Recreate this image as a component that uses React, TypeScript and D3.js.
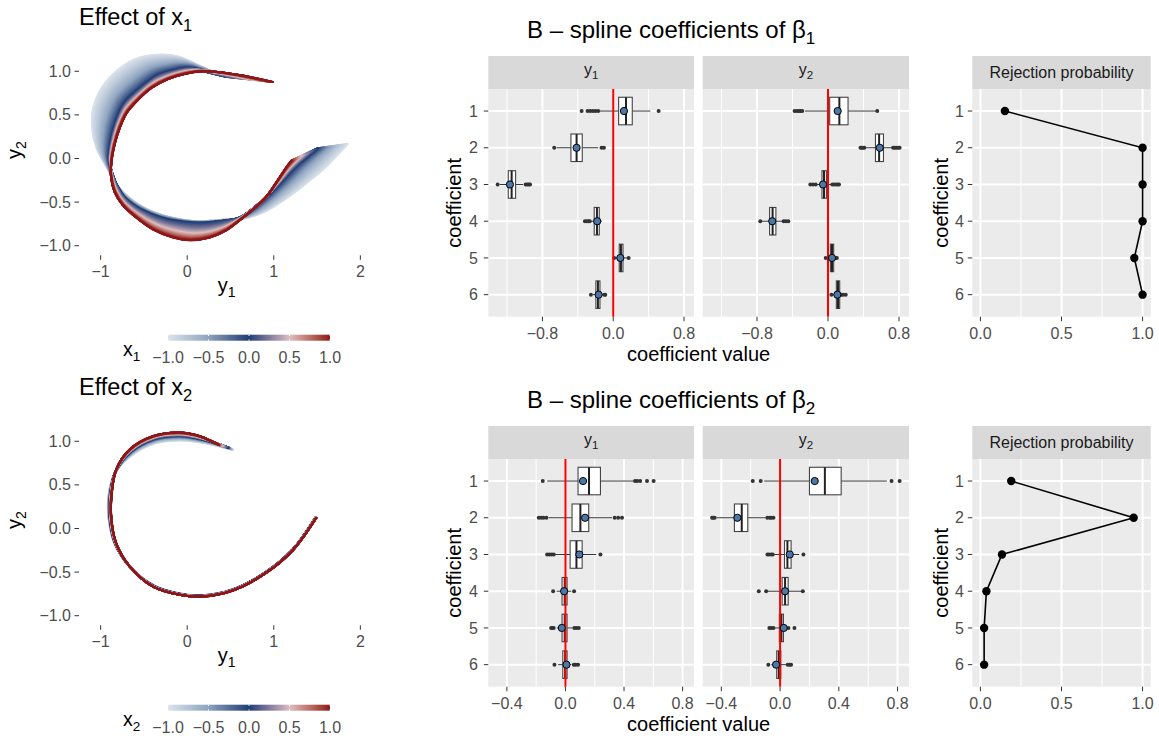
import React from "react";
import * as d3 from "d3";

type Pt = [number, number];
type Box = [number, number, number, number, number]; // lower whisker, q1, median, q3, upper whisker

const FONT = "'Liberation Sans', Arial, Helvetica, sans-serif";
const TICK_COL = "#4d4d4d";

// ---------- Effect of x1: curves (y1, y2) read at x1 = -1, 0, 1 ----------
const effectX1_atMinus1: Pt[] = [
  [0.18, 1.03], [0.1, 1.08], [0.02, 1.12], [-0.08, 1.16], [-0.2, 1.185], [-0.35, 1.19],
  [-0.567, 1.153], [-0.8, 1.018], [-0.99, 0.808], [-1.087, 0.578], [-1.098, 0.347],
  [-1.047, 0.117], [-0.95, -0.06], [-0.87, -0.2], [-0.79, -0.33], [-0.66, -0.46],
  [-0.47, -0.58], [-0.22, -0.67], [0.03, -0.715], [0.25, -0.715], [0.45, -0.7],
  [0.644, -0.69], [0.913, -0.6], [1.144, -0.458], [1.375, -0.285], [1.605, -0.094], [1.855, 0.167],
];
const effectX1_atZero: Pt[] = [
  [0.47, 0.934], [0.33, 0.965], [0.21, 0.995], [0.087, 1.03], [-0.02, 1.035], [-0.15, 1.01],
  [-0.337, 0.953], [-0.528, 0.815], [-0.72, 0.635], [-0.82, 0.424], [-0.88, 0.193],
  [-0.9, 0.0], [-0.865, -0.17], [-0.805, -0.32], [-0.715, -0.458], [-0.525, -0.593],
  [-0.279, -0.688], [0.029, -0.738], [0.2, -0.74], [0.337, -0.727], [0.47, -0.71],
  [0.606, -0.677], [0.75, -0.58], [0.9, -0.45], [1.06, -0.29], [1.25, -0.09], [1.5, 0.115],
];
const effectX1_atPlus1: Pt[] = [
  [0.99, 0.877], [0.625, 0.953], [0.355, 0.992], [0.164, 0.999], [-0.029, 0.969], [-0.221, 0.911],
  [-0.413, 0.808], [-0.567, 0.673], [-0.7, 0.52], [-0.78, 0.347], [-0.84, 0.155],
  [-0.875, -0.037], [-0.88, -0.209], [-0.84, -0.382], [-0.745, -0.535], [-0.59, -0.677],
  [-0.394, -0.815], [-0.164, -0.907], [0.029, -0.938], [0.26, -0.907], [0.452, -0.823],
  [0.606, -0.708], [0.759, -0.585], [0.913, -0.44], [1.047, -0.247], [1.144, -0.101], [1.202, -0.025],
];

// ---------- Effect of x2: curves read at x2 = -1, 0, 1 ----------
const effectX2_atMinus1: Pt[] = [
  [0.53, 0.9], [0.25, 0.97], [-0.05, 1.01], [-0.36, 0.98], [-0.64, 0.84], [-0.83, 0.64],
  [-0.91, 0.37], [-0.905, 0.1], [-0.84, -0.17], [-0.67, -0.43], [-0.39, -0.65],
  [-0.09, -0.745], [0.18, -0.765], [0.53, -0.695], [0.91, -0.495], [1.22, -0.235], [1.48, 0.13],
];
const effectX2_atZero: Pt[] = [
  [0.47, 0.93], [0.19, 1.02], [-0.08, 1.065], [-0.38, 1.03], [-0.65, 0.885], [-0.825, 0.66],
  [-0.89, 0.37], [-0.89, 0.1], [-0.83, -0.17], [-0.665, -0.435], [-0.39, -0.66],
  [-0.09, -0.752], [0.18, -0.772], [0.53, -0.702], [0.91, -0.502], [1.22, -0.242], [1.485, 0.125],
];
const effectX2_atPlus1: Pt[] = [
  [0.36, 0.96], [0.14, 1.06], [-0.09, 1.1], [-0.39, 1.06], [-0.66, 0.91], [-0.82, 0.675],
  [-0.875, 0.37], [-0.875, 0.1], [-0.82, -0.17], [-0.66, -0.44], [-0.39, -0.67],
  [-0.09, -0.76], [0.18, -0.78], [0.53, -0.71], [0.91, -0.51], [1.22, -0.25], [1.49, 0.12],
];

const effectXTicks = [-1, 0, 1, 2];
const effectYTicks = [-1, -0.5, 0, 0.5, 1];
const legendTicks = [-1, -0.5, 0, 0.5, 1];
const colourStops = [-1, -0.5, 0, 0.5, 1];
const colourValues = ["#dbe3eb", "#8ea4bf", "#1d3f75", "#dcbfc2", "#8e1519"];

// ---------- B-spline coefficients ----------
const coefficients = ["1", "2", "3", "4", "5", "6"];

const beta1_y1_box: Box[] = [
  [-0.15, 0.061, 0.144, 0.215, 0.42],
  [-0.64, -0.478, -0.414, -0.35, -0.17],
  [-1.28, -1.186, -1.148, -1.103, -1.02],
  [-0.25, -0.215, -0.184, -0.158, -0.128],
  [0.02, 0.068, 0.087, 0.11, 0.16],
  [-0.23, -0.196, -0.173, -0.15, -0.11],
];
const beta1_y1_outliers: number[][] = [
  [-0.357, -0.29, -0.26, -0.23, -0.2, -0.17, 0.513],
  [-0.667, -0.132, -0.105],
  [-1.306, -0.99, -0.97, -0.955, -0.94],
  [-0.32, -0.3, -0.28, -0.265],
  [0.011, 0.174],
  [-0.252, -0.1, -0.09],
];
const beta1_y1_point = [0.121, -0.414, -1.167, -0.181, 0.08, -0.165];

const beta1_y2_box: Box[] = [
  [-0.26, 0.019, 0.128, 0.226, 0.54],
  [0.43, 0.535, 0.576, 0.625, 0.72],
  [-0.13, -0.068, -0.045, -0.018, 0.04],
  [-0.75, -0.658, -0.624, -0.587, -0.51],
  [0.0, 0.027, 0.045, 0.064, 0.075],
  [0.06, 0.094, 0.113, 0.132, 0.145],
];
const beta1_y2_outliers: number[][] = [
  [-0.376, -0.35, -0.33, -0.31, -0.29, 0.555],
  [0.366, 0.38, 0.395, 0.41, 0.734, 0.75, 0.77, 0.79, 0.807],
  [-0.199, -0.17, -0.139, 0.049, 0.07, 0.09, 0.11, 0.124],
  [-0.763, -0.5, -0.475, -0.447],
  [-0.026, 0.08, 0.1],
  [0.038, 0.151, 0.17, 0.2],
];
const beta1_y2_point = [0.109, 0.583, -0.056, -0.628, 0.045, 0.105];

const beta2_y1_box: Box[] = [
  [-0.125, 0.086, 0.161, 0.239, 0.466],
  [-0.115, 0.045, 0.102, 0.159, 0.318],
  [-0.07, 0.032, 0.075, 0.114, 0.21],
  [-0.06, -0.023, -0.005, 0.011, 0.04],
  [-0.06, -0.023, -0.005, 0.011, 0.05],
  [-0.05, -0.018, -0.002, 0.011, 0.04],
];
const beta2_y1_outliers: number[][] = [
  [-0.155, 0.475, 0.49, 0.51, 0.557, 0.602],
  [-0.182, -0.165, -0.15, -0.13, 0.336, 0.36, 0.386],
  [-0.125, -0.11, -0.095, -0.08, 0.239],
  [-0.084, 0.059],
  [-0.098, -0.09, -0.08, 0.061, 0.075, 0.091],
  [-0.075, 0.057, 0.07, 0.086],
];
const beta2_y1_point = [0.12, 0.134, 0.095, -0.009, -0.025, 0.007];

const beta2_y2_box: Box[] = [
  [-0.109, 0.2, 0.305, 0.416, 0.727],
  [-0.43, -0.311, -0.261, -0.22, -0.1],
  [-0.04, 0.03, 0.05, 0.075, 0.13],
  [-0.09, 0.014, 0.034, 0.055, 0.15],
  [-0.04, -0.005, 0.009, 0.023, 0.05],
  [-0.06, -0.023, -0.009, 0.005, 0.04],
];
const beta2_y2_outliers: number[][] = [
  [-0.186, -0.132, 0.759, 0.814],
  [-0.463, -0.455, -0.445, -0.087, -0.07, -0.06, -0.045],
  [-0.086, -0.075, -0.06, -0.05, 0.159],
  [-0.145, -0.095, 0.155],
  [-0.073, -0.06, -0.045, 0.057, 0.098],
  [-0.08, 0.052, 0.065, 0.075],
];
const beta2_y2_point = [0.236, -0.291, 0.066, 0.034, 0.025, -0.027];

const beta1_rejection = [0.151, 1.0, 1.0, 1.0, 0.949, 1.0];
const beta2_rejection = [0.19, 0.945, 0.133, 0.037, 0.023, 0.023];

const beta1_valueTicks = [-0.8, 0, 0.8];
const beta1_valueMinor = [-1.2, -0.4, 0.4];
const beta2_valueTicks = [-0.4, 0, 0.4, 0.8];
const beta2_valueMinor = [-0.2, 0.2, 0.6];
const rejectionTicks = [0, 0.5, 1];
const rejectionMinor = [0.25, 0.75];

// ---------------------------------------------------------------
const fmt1 = d3.format(".1f");
const fmtInt = d3.format("d");
const colour = d3
  .scaleLinear<string>()
  .domain(colourStops)
  .range(colourValues)
  .interpolate(d3.interpolateLab);

// Curves between the read ones follow the (multiplicative) model: spacing grows
// exponentially with the covariate, so warp the blending weight accordingly.
const K = 1.1;
function blend(m1: Pt[], z: Pt[], p1: Pt[], v: number): Pt[] {
  let b: Pt[];
  let t: number;
  if (v <= 0) {
    b = m1;
    t = (Math.exp(-K * v) - 1) / (Math.exp(K) - 1);
  } else {
    b = p1;
    t = (1 - Math.exp(-K * v)) / (1 - Math.exp(-K));
  }
  return z.map((p, i) => [p[0] + (b[i][0] - p[0]) * t, p[1] + (b[i][1] - p[1]) * t] as Pt);
}

function EffectPlot({ top, sub, curves }: { top: number; sub: string; curves: [Pt[], Pt[], Pt[]] }) {
  const x = d3.scaleLinear().domain([-1.25, 2.16]).range([79, 374.2]);
  const y = d3.scaleLinear().domain([-1.11, 1.3]).range([top + 255.3, top + 45.1]);
  const line = d3
    .line<Pt>()
    .x((d) => x(d[0]))
    .y((d) => y(d[1]))
    .curve(d3.curveCatmullRom.alpha(0.5));
  const levels = d3.range(0, 161).map((i) => -1 + i / 80);
  const bottom = top + 255.3;
  const lx = d3.scaleLinear().domain([-1, 1]).range([168, 330]);
  const gid = "grad" + sub;
  const barTop = top + 334.7;
  const barH = 6;
  const stops = d3.range(0, 41).map((i) => -1 + i * 0.05);
  return (
    <g>
      <text x={79} y={top + 25} fontSize={23.5} fill="#000">
        Effect of x<tspan dy={6} fontSize={16.5}>{sub}</tspan>
      </text>
      {levels.map((v, i) => (
        <path
          key={i}
          d={line(blend(curves[0], curves[1], curves[2], v)) || ""}
          fill="none"
          stroke={colour(v)}
          strokeWidth={2.1}
          strokeLinecap="round"
        />
      ))}
      {effectYTicks.map((t) => (
        <g key={"y" + t}>
          <line x1={74.5} x2={79} y1={y(t)} y2={y(t)} stroke="#333" strokeWidth={1} />
          <text x={71} y={y(t)} dy="0.35em" textAnchor="end" fontSize={16} fill={TICK_COL}>
            {fmt1(t)}
          </text>
        </g>
      ))}
      {effectXTicks.map((t) => (
        <g key={"x" + t}>
          <line x1={x(t)} x2={x(t)} y1={bottom} y2={bottom + 4.5} stroke="#333" strokeWidth={1} />
          <text x={x(t)} y={top + 277} textAnchor="middle" fontSize={16} fill={TICK_COL}>
            {fmtInt(t)}
          </text>
        </g>
      ))}
      <text x={(79 + 374.2) / 2} y={top + 292} textAnchor="middle" fontSize={20}>
        y<tspan dy={5} fontSize={14}>1</tspan>
      </text>
      <text transform={`translate(21,${(top + 45.1 + bottom) / 2}) rotate(-90)`} textAnchor="middle" fontSize={20}>
        y<tspan dy={5} fontSize={14}>2</tspan>
      </text>
      {/* legend */}
      <defs>
        <linearGradient id={gid} x1="0" x2="1" y1="0" y2="0">
          {stops.map((s, i) => (
            <stop key={i} offset={(s + 1) / 2} stopColor={colour(s)} />
          ))}
        </linearGradient>
      </defs>
      <text x={123} y={top + 356} fontSize={19.5}>
        x<tspan dy={4.5} fontSize={13.5}>{sub}</tspan>
      </text>
      <rect x={lx(-1)} y={barTop} width={lx(1) - lx(-1)} height={barH} fill={`url(#${gid})`} />
      {legendTicks.map((t) => (
        <g key={"l" + t}>
          <line x1={lx(t)} x2={lx(t)} y1={barTop} y2={barTop + 1.3} stroke="#fff" strokeWidth={1} />
          <line x1={lx(t)} x2={lx(t)} y1={barTop + barH - 1.3} y2={barTop + barH} stroke="#fff" strokeWidth={1} />
          <text x={lx(t)} y={top + 363.3} textAnchor="middle" fontSize={16} fill={TICK_COL}>
            {fmt1(t)}
          </text>
        </g>
      ))}
    </g>
  );
}

type FacetData = { box: Box[]; outliers: number[][]; point: number[] };

function CoefRow({
  top,
  sub,
  y1,
  y2,
  rejection,
  majors,
  minors,
}: {
  top: number;
  sub: string;
  y1: FacetData;
  y2: FacetData;
  rejection: number[];
  majors: number[];
  minors: number[];
}) {
  const stripTop = top + 56;
  const panelTop = top + 89;
  const panelBottom = top + 316.7;
  const yPos = d3.scalePoint<string>().domain(coefficients).range([panelTop, panelBottom]).padding(0.6);
  const step = yPos.step();
  const bh = step * 0.75;

  const vals: number[] = [];
  [y1, y2].forEach((f) => {
    f.box.forEach((b) => vals.push(...b));
    f.outliers.forEach((o) => vals.push(...o));
    vals.push(...f.point);
  });
  const [mn, mx] = d3.extent(vals) as [number, number];
  const pad = (mx - mn) * 0.05;
  const facets = [
    { key: "1", data: y1, x0: 488.3, x1: 694 },
    { key: "2", data: y2, x0: 702.7, x1: 909 },
  ];
  const rx = d3.scaleLinear().domain([-0.05, 1.05]).range([972.3, 1150.7]);
  const rline = d3
    .line<number>()
    .x((d) => rx(d))
    .y((_, i) => yPos(coefficients[i]) as number);

  const grid = (x: d3.ScaleLinear<number, number>, x0: number, x1: number, mj: number[], mi: number[]) => (
    <g>
      <rect x={x0} y={panelTop} width={x1 - x0} height={panelBottom - panelTop} fill="#ebebeb" />
      {mi.map((t) => (
        <line key={"mi" + t} x1={x(t)} x2={x(t)} y1={panelTop} y2={panelBottom} stroke="#fff" strokeWidth={1} />
      ))}
      {mj.map((t) => (
        <line key={"mj" + t} x1={x(t)} x2={x(t)} y1={panelTop} y2={panelBottom} stroke="#fff" strokeWidth={2} />
      ))}
      {coefficients.map((c) => (
        <line key={"h" + c} x1={x0} x2={x1} y1={yPos(c)} y2={yPos(c)} stroke="#fff" strokeWidth={2} />
      ))}
      {mj.map((t) => (
        <g key={"t" + t}>
          <line x1={x(t)} x2={x(t)} y1={panelBottom} y2={panelBottom + 4.5} stroke="#333" strokeWidth={1} />
          <text x={x(t)} y={panelBottom + 22.3} textAnchor="middle" fontSize={16} fill={TICK_COL}>
            {fmt1(t)}
          </text>
        </g>
      ))}
    </g>
  );

  const yAxis = (xLeft: number, labelX: number, titleX: number) => (
    <g>
      {coefficients.map((c) => (
        <g key={"ya" + c}>
          <line x1={xLeft - 4.5} x2={xLeft} y1={yPos(c)} y2={yPos(c)} stroke="#333" strokeWidth={1} />
          <text x={labelX} y={yPos(c)} dy="0.35em" textAnchor="end" fontSize={16} fill={TICK_COL}>
            {c}
          </text>
        </g>
      ))}
      <text
        transform={`translate(${titleX},${(panelTop + panelBottom) / 2}) rotate(-90)`}
        textAnchor="middle"
        fontSize={20}
      >
        coefficient
      </text>
    </g>
  );

  return (
    <g>
      <text x={527} y={top + 38} fontSize={24}>
        B – spline coefficients of β<tspan dy={6} fontSize={17}>{sub}</tspan>
      </text>
      {facets.map((f) => {
        const x = d3.scaleLinear().domain([mn - pad, mx + pad]).range([f.x0, f.x1]);
        return (
          <g key={f.key}>
            <rect x={f.x0} y={stripTop} width={f.x1 - f.x0} height={panelTop - stripTop} fill="#d9d9d9" />
            <text x={(f.x0 + f.x1) / 2} y={stripTop + 19} textAnchor="middle" fontSize={16} fill="#1a1a1a">
              y<tspan dy={3.5} fontSize={11.5}>{f.key}</tspan>
            </text>
            {grid(x, f.x0, f.x1, majors, minors)}
            {f.data.box.map((b, i) => {
              const cy = yPos(coefficients[i]) as number;
              return (
                <g key={"b" + i}>
                  <line x1={x(b[0])} x2={x(b[1])} y1={cy} y2={cy} stroke="#333" strokeWidth={1} />
                  <line x1={x(b[3])} x2={x(b[4])} y1={cy} y2={cy} stroke="#333" strokeWidth={1} />
                  <rect
                    x={x(b[1])}
                    y={cy - bh / 2}
                    width={x(b[3]) - x(b[1])}
                    height={bh}
                    fill="#fff"
                    stroke="#444"
                    strokeWidth={1.1}
                  />
                  <line x1={x(b[2])} x2={x(b[2])} y1={cy - bh / 2} y2={cy + bh / 2} stroke="#222" strokeWidth={2} />
                  {f.data.outliers[i].map((o, k) => (
                    <circle key={k} cx={x(o)} cy={cy} r={2} fill="#333" />
                  ))}
                </g>
              );
            })}
            <line x1={x(0)} x2={x(0)} y1={panelTop} y2={panelBottom} stroke="#ff0000" strokeWidth={2} />
            {f.data.point.map((p, i) => (
              <circle
                key={"p" + i}
                cx={x(p)}
                cy={yPos(coefficients[i]) as number}
                r={3.6}
                fill="#4a78a8"
                stroke="#000"
                strokeWidth={1}
              />
            ))}
          </g>
        );
      })}
      {yAxis(488.3, 478, 461)}
      <text x={(488.3 + 909) / 2} y={top + 361} textAnchor="middle" fontSize={20}>
        coefficient value
      </text>
      {/* rejection probability */}
      <rect x={972.3} y={stripTop} width={1150.7 - 972.3} height={panelTop - stripTop} fill="#d9d9d9" />
      <text x={(972.3 + 1150.7) / 2} y={stripTop + 22} textAnchor="middle" fontSize={16} fill="#1a1a1a">
        Rejection probability
      </text>
      {grid(rx, 972.3, 1150.7, rejectionTicks, rejectionMinor)}
      <path d={rline(rejection) || ""} fill="none" stroke="#000" strokeWidth={1.6} />
      {rejection.map((r, i) => (
        <circle key={"r" + i} cx={rx(r)} cy={yPos(coefficients[i]) as number} r={4.2} fill="#000" />
      ))}
      {yAxis(972.3, 964, 948)}
    </g>
  );
}

export default function App() {
  return (
    <svg
      width={1159}
      height={738}
      viewBox="0 0 1159 738"
      style={{ position: "absolute", left: 0, top: 0, display: "block" }}
      fontFamily={FONT}
    >
      <rect width={1159} height={738} fill="#fff" />
      <EffectPlot top={0} sub="1" curves={[effectX1_atMinus1, effectX1_atZero, effectX1_atPlus1]} />
      <EffectPlot top={370} sub="2" curves={[effectX2_atMinus1, effectX2_atZero, effectX2_atPlus1]} />
      <CoefRow
        top={0}
        sub="1"
        y1={{ box: beta1_y1_box, outliers: beta1_y1_outliers, point: beta1_y1_point }}
        y2={{ box: beta1_y2_box, outliers: beta1_y2_outliers, point: beta1_y2_point }}
        rejection={beta1_rejection}
        majors={beta1_valueTicks}
        minors={beta1_valueMinor}
      />
      <CoefRow
        top={370}
        sub="2"
        y1={{ box: beta2_y1_box, outliers: beta2_y1_outliers, point: beta2_y1_point }}
        y2={{ box: beta2_y2_box, outliers: beta2_y2_outliers, point: beta2_y2_point }}
        rejection={beta2_rejection}
        majors={beta2_valueTicks}
        minors={beta2_valueMinor}
      />
    </svg>
  );
}
